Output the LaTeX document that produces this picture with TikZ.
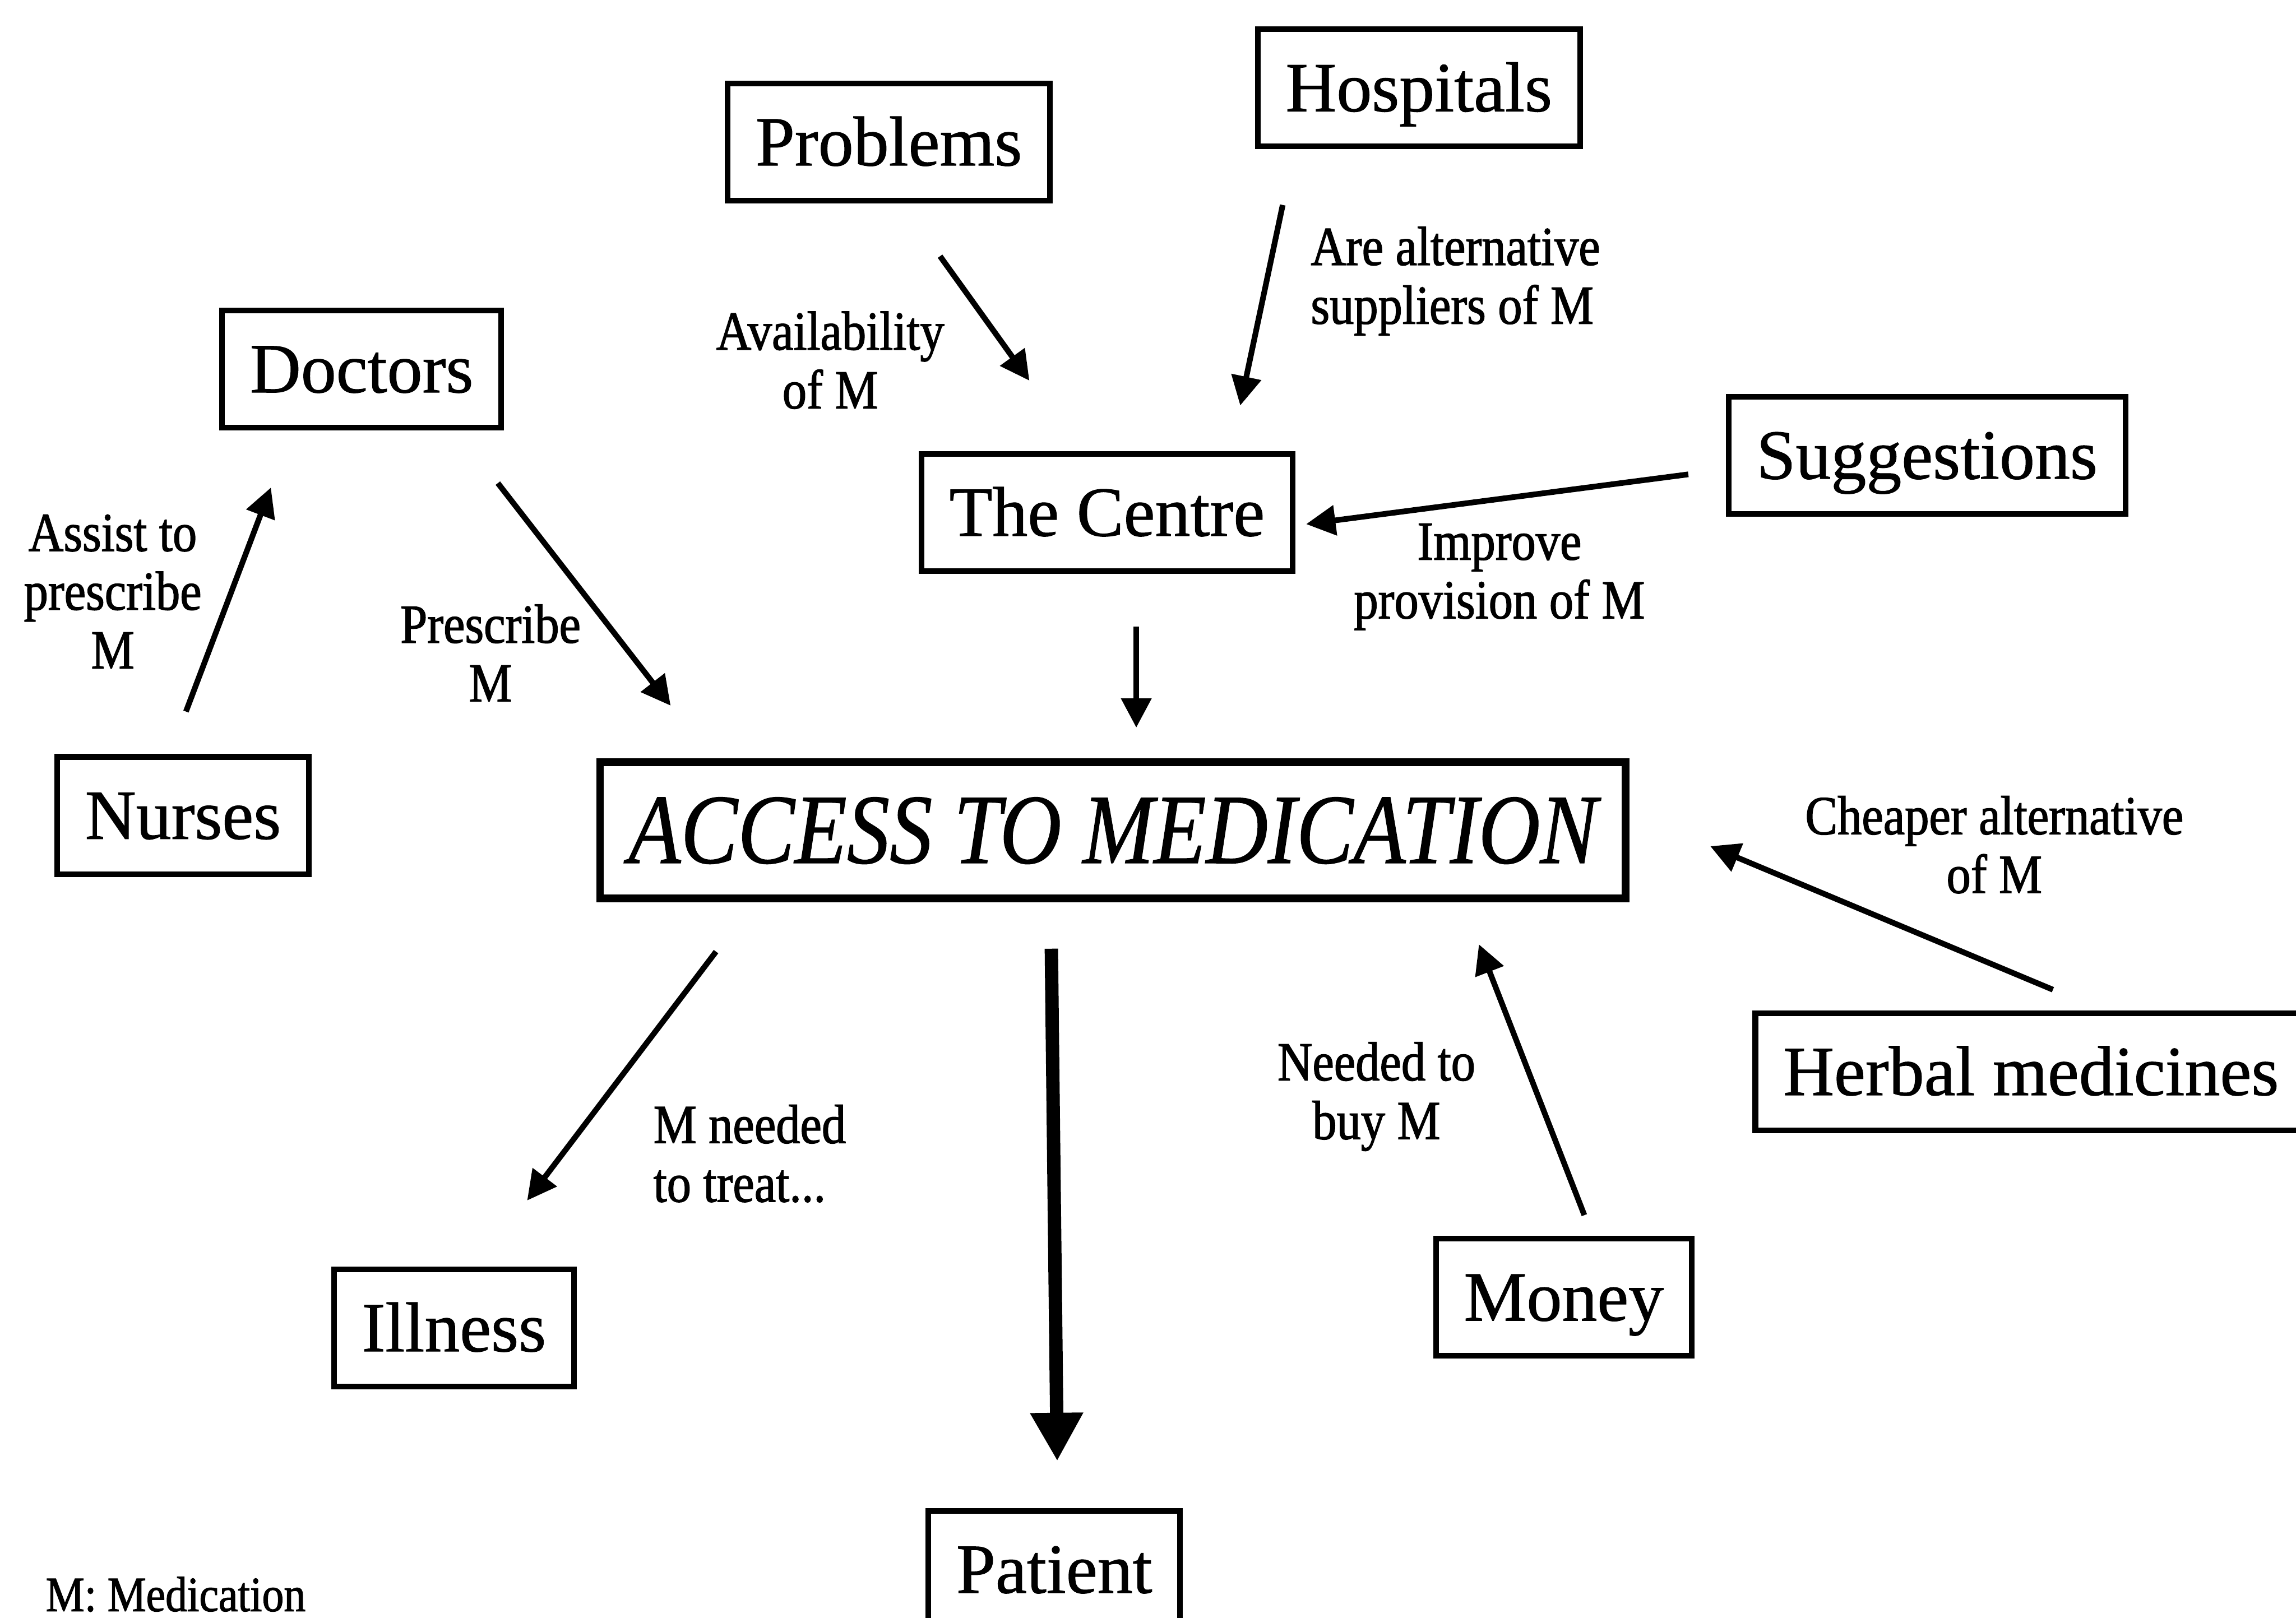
\documentclass[tikz,border=0pt]{standalone}
\usepackage{fontspec}
\usepackage{graphicx}
\setmainfont{Liberation Serif}
\newfontfamily\boxfont[FakeBold=0.8]{Liberation Serif}
\newfontfamily\lblfont[FakeStretch=0.88,FakeBold=1.4]{Liberation Serif}
\usetikzlibrary{arrows.meta}

\begin{document}
\begin{tikzpicture}[x=0.01cm,y=-0.01cm,
  box/.style={draw,line width=1.1pt,minimum height=0.8cm,inner xsep=0.19cm,inner ysep=0pt,
              text height=9.6pt,text depth=0.5pt,
              font=\boxfont\fontsize{13.7}{16}\selectfont},
  lbl/.style={align=center,inner sep=0pt,font=\lblfont\fontsize{10.7}{11.4}\selectfont},
  link/.style={line width=1.1pt,-{Triangle[length=0.2cm,width=0.2cm]}},
  biglink/.style={line width=2.6pt,-{Triangle[length=0.33cm,width=0.34cm]}}]

\useasboundingbox (0,0) rectangle (1568,1105);

% concept boxes
\node[box] (hosp)    at (969,60)   {Hospitals};
\node[box] (prob)    at (607,97)   {Problems};
\node[box] (doc)     at (247,252)  {Doctors};
\node[box] (sugg)    at (1316,311) {Suggestions};
\node[box] (centre)  at (756,350)  {The Centre};
\node[box] (nurse)   at (125,557)  {Nurses};
\node[box,line width=1.5pt,minimum width=7cm,minimum height=0.93cm,
      text height=13.3pt,text depth=0.5pt] (access) at (760,567)
      {\fontsize{19.3}{22}\selectfont\scalebox{0.86}[1]{\itshape ACCESS TO MEDICATION}};
\node[box] (herbal)  at (1387,732) {Herbal medicines};
\node[box] (money)   at (1068,886) {Money};
\node[box] (ill)     at (310,907)  {Illness};
\node[box] (patient) at (720,1072) {Patient};

% connector end points
\coordinate (nurse-out)  at (127,486);
\coordinate (doc-in)     at (185,333);
\coordinate (doc-out)    at (340,330);
\coordinate (acc-doc)    at (458,482);
\coordinate (prob-out)   at (642,175);
\coordinate (cen-prob)   at (703,260);
\coordinate (hosp-out)   at (876,140);
\coordinate (cen-hosp)   at (847,277);
\coordinate (sugg-out)   at (1153,324);
\coordinate (cen-sugg)   at (892,358);
\coordinate (cen-out)    at (776,428);
\coordinate (acc-cen)    at (776,497);
\coordinate (acc-ill)    at (489,650);
\coordinate (ill-in)     at (360,820);
\coordinate (acc-pat)    at (718,648);
\coordinate (pat-in)     at (722,998);
\coordinate (money-out)  at (1082,830);
\coordinate (acc-money)  at (1010,645);
\coordinate (herb-out)   at (1402,676);
\coordinate (acc-herb)   at (1168,578);

% connectors
\draw[link] (nurse-out) -- (doc-in);
\draw[link] (doc-out) -- (acc-doc);
\draw[link] (prob-out) -- (cen-prob);
\draw[link] (hosp-out) -- (cen-hosp);
\draw[link] (sugg-out) -- (cen-sugg);
\draw[link] (cen-out) -- (acc-cen);
\draw[link] (acc-ill) -- (ill-in);
\draw[biglink] (acc-pat) -- (pat-in);
\draw[link] (money-out) -- (acc-money);
\draw[link] (herb-out) -- (acc-herb);

% connector labels
\node[lbl] (l-assist) at (77,404)   {Assist to\\prescribe\\M};
\node[lbl] (l-presc)  at (335,446)  {Prescribe\\M};
\node[lbl] (l-avail)  at (567,246)  {Availability\\of M};
\node[lbl,align=left] (l-alt) at (994,192) {Are alternative\\suppliers of M};
\node[lbl] (l-impr)   at (1024,394) {Improve\\provision of M};
\node[lbl] (l-cheap)  at (1362,577) {Cheaper alternative\\of M};
\node[lbl] (l-need)   at (940,749)  {Needed to\\buy M};
\node[lbl,align=left] (l-treat) at (512,788) {M needed\\to treat...};

% key
\node[lbl,font=\lblfont\fontsize{9.6}{11}\selectfont] (key) at (120,1089) {M: Medication};
\end{tikzpicture}
\end{document}
